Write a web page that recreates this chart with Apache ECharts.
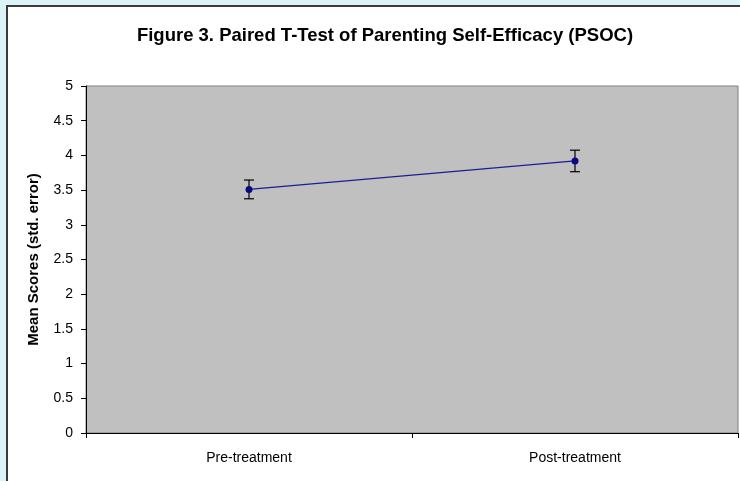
<!DOCTYPE html>
<html>
<head>
<meta charset="utf-8">
<script src="https://cdn.jsdelivr.net/npm/echarts@6/dist/echarts.min.js"></script>
<style>
  body { margin: 0; background: #dcf3f8; }
  #frame { position: absolute; left: 6px; top: 5px; width: 740px; height: 480px;
           border-left: 2px solid #3a3a3a; border-top: 2px solid #3a3a3a; background: #fff; }
  #main { position: absolute; left: 0; top: 0; width: 740px; height: 481px; }
</style>
</head>
<body>
<div id="frame"></div>
<div id="main"></div>
<script type="text/javascript">
var categories = ['Pre-treatment', 'Post-treatment'];
var meanScores = [3.51, 3.92];
var stdErrors = [0.135, 0.155];

var chart = echarts.init(document.getElementById('main'));

var errData = [];
for (var i = 0; i < categories.length; i++) {
    errData.push([i, meanScores[i] - stdErrors[i], meanScores[i] + stdErrors[i]]);
}

var option = {
    backgroundColor: 'transparent',
    animation: false,
    title: {
        text: 'Figure 3. Paired T-Test of Parenting Self-Efficacy (PSOC)',
        left: 380,
        textAlign: 'center',
        top: 21,
        textStyle: { fontFamily: 'Liberation Sans, Arial', fontSize: 18.5, fontWeight: 'bold', color: '#000' }
    },
    grid: {
        left: 86, right: 2, top: 86, bottom: 48,
        show: true,
        backgroundColor: '#c0c0c0',
        borderColor: '#808080',
        borderWidth: 1
    },
    xAxis: {
        type: 'category',
        data: categories,
        boundaryGap: true,
        axisLine: { lineStyle: { color: '#000', width: 1 } },
        axisTick: { show: true, length: 5, lineStyle: { color: '#000' } },
        axisLabel: { color: '#000', fontFamily: 'Liberation Sans, Arial', fontSize: 14, margin: 18 }
    },
    yAxis: {
        type: 'value',
        min: 0, max: 5, interval: 0.5,
        name: 'Mean Scores (std. error)',
        nameLocation: 'middle',
        nameRotate: 90,
        nameGap: 45,
        nameTextStyle: { fontFamily: 'Liberation Sans, Arial', fontSize: 15, fontWeight: 'bold', color: '#000' },
        axisLine: { show: true, lineStyle: { color: '#000', width: 1 } },
        axisTick: { show: true, length: 5, lineStyle: { color: '#000' } },
        axisLabel: { color: '#000', fontFamily: 'Liberation Sans, Arial', fontSize: 14, margin: 13 },
        splitLine: { show: false }
    },
    series: [
        {
            name: 'Mean',
            type: 'line',
            data: meanScores,
            symbol: 'circle',
            symbolSize: 7,
            lineStyle: { color: '#1c1c96', width: 1.2 },
            itemStyle: { color: '#0a0a80' },
            z: 3
        },
        {
            name: 'Std. error',
            type: 'custom',
            data: errData,
            z: 2,
            renderItem: function (params, api) {
                var x = api.value(0);
                var lo = api.coord([x, api.value(1)]);
                var hi = api.coord([x, api.value(2)]);
                var w = 5;
                var style = { stroke: '#000', lineWidth: 1.2 };
                return {
                    type: 'group',
                    children: [
                        { type: 'line', shape: { x1: hi[0], y1: hi[1], x2: lo[0], y2: lo[1] }, style: style },
                        { type: 'line', shape: { x1: hi[0] - w, y1: hi[1], x2: hi[0] + w, y2: hi[1] }, style: style },
                        { type: 'line', shape: { x1: lo[0] - w, y1: lo[1], x2: lo[0] + w, y2: lo[1] }, style: style }
                    ]
                };
            }
        }
    ]
};

chart.setOption(option);
</script>
</body>
</html>
